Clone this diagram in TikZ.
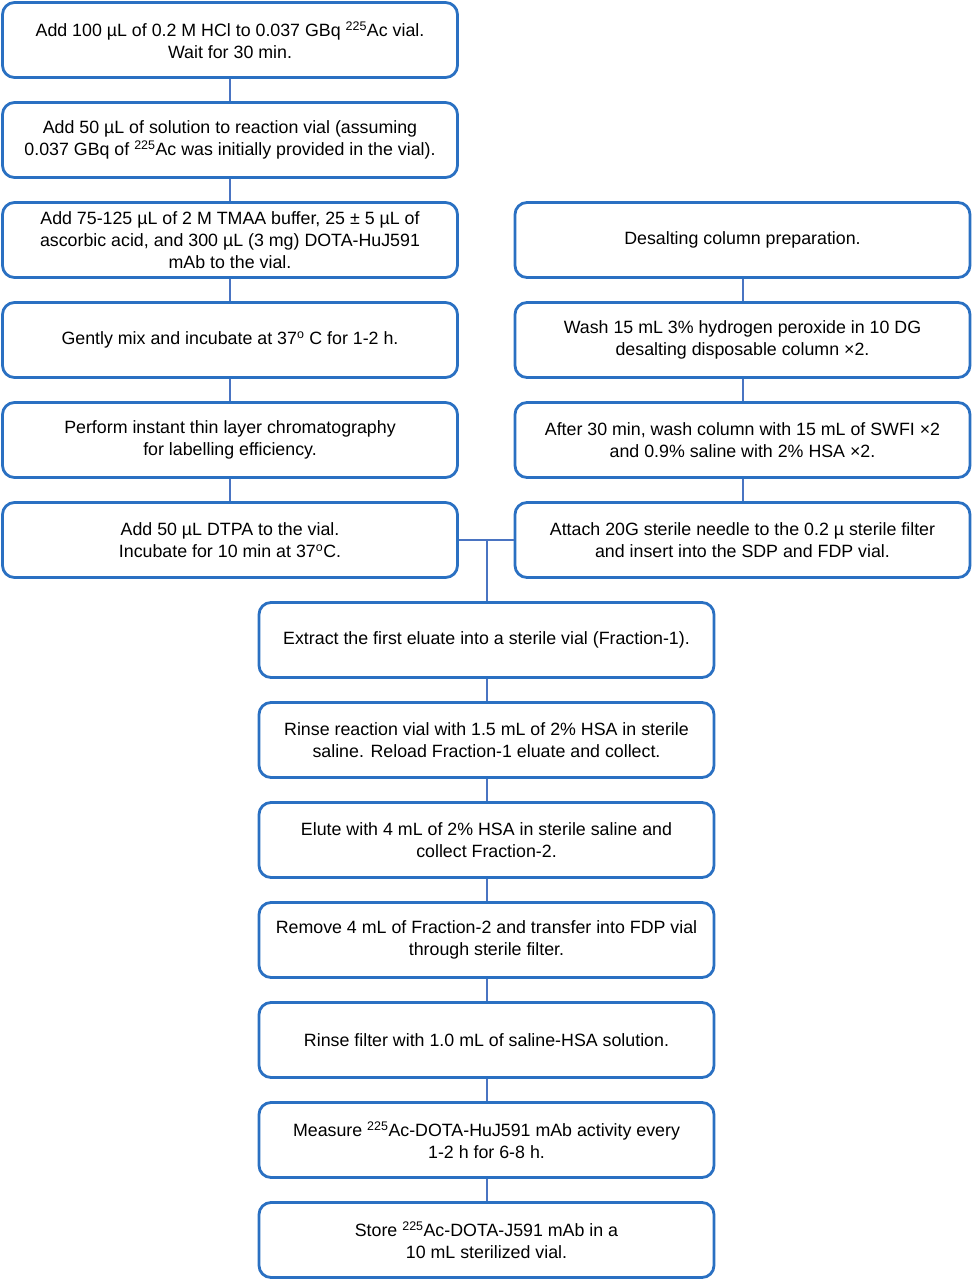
\documentclass[tikz,border=0pt]{standalone}
\usepackage{fontspec}
\setmainfont{Liberation Sans}
\definecolor{boxblue}{HTML}{2A70C2}
\definecolor{lineblue}{HTML}{4A74C2}
\begin{document}
\begin{tikzpicture}[x=1pt,y=-1pt,
  stepbox/.style={draw=boxblue,line width=2.8pt,rounded corners=12pt,fill=white,
    minimum width=455pt,minimum height=75pt,align=center,inner sep=0pt,
    font=\fontsize{17.8}{22}\selectfont},
  conn/.style={draw=lineblue,line width=2pt}]
\useasboundingbox (0,0) rectangle (973,1280);
\node[stepbox] (l1) at (230,40) {Add 100 µL of 0.2 M HCl to 0.037 GBq \textsuperscript{225}Ac vial.\\Wait for 30 min.};
\node[stepbox] (l2) at (230,140) {Add 50 µL of solution to reaction vial (assuming\\0.037 GBq of \textsuperscript{225}Ac was initially provided in the vial).};
\node[stepbox] (l3) at (230,240) {Add 75-125 µL of 2 M TMAA buffer, 25 ± 5 µL of\\ascorbic acid, and 300 µL (3 mg) DOTA-HuJ591\\mAb to the vial.};
\node[stepbox] (l4) at (230,340) {Gently mix and incubate at 37\textsuperscript{o} C for 1-2 h.};
\node[stepbox] (l5) at (230,440) {Perform instant thin layer chromatography\\for labelling efficiency.};
\node[stepbox] (l6) at (230,540) {Add 50 µL DTPA to the vial.\\Incubate for 10 min at 37\textsuperscript{o}C.};
\node[stepbox] (r1) at (742.5,240) {Desalting column preparation.};
\node[stepbox] (r2) at (742.5,340) {Wash 15 mL 3\% hydrogen peroxide in 10 DG\\desalting disposable column ×2.};
\node[stepbox] (r3) at (742.5,440) {After 30 min, wash column with 15 mL of SWFI ×2\\and 0.9\% saline with 2\% HSA ×2.};
\node[stepbox] (r4) at (742.5,540) {Attach 20G sterile needle to the 0.2 µ sterile filter\\and insert into the SDP and FDP vial.};
\node[stepbox] (b1) at (486.5,640) {Extract the first eluate into a sterile vial (Fraction-1).};
\node[stepbox] (b2) at (486.5,740) {Rinse reaction vial with 1.5 mL of 2\% HSA in sterile\\saline. Reload Fraction-1 eluate and collect.};
\node[stepbox] (b3) at (486.5,840) {Elute with 4 mL of 2\% HSA in sterile saline and\\collect Fraction-2.};
\node[stepbox] (b4) at (486.5,940) {Remove 4 mL of Fraction-2 and transfer into FDP vial\\through sterile filter.};
\node[stepbox] (b5) at (486.5,1040) {Rinse filter with 1.0 mL of saline-HSA solution.};
\node[stepbox] (b6) at (486.5,1140) {Measure \textsuperscript{225}Ac-DOTA-HuJ591 mAb activity every\\1-2 h for 6-8 h.};
\node[stepbox] (b7) at (486.5,1240) {Store \textsuperscript{225}Ac-DOTA-J591 mAb in a\\10 mL sterilized vial.};
\coordinate (j) at (486.5,540);
\draw[conn] (l1) -- (l2);
\draw[conn] (l2) -- (l3);
\draw[conn] (l3) -- (l4);
\draw[conn] (l4) -- (l5);
\draw[conn] (l5) -- (l6);
\draw[conn] (r1) -- (r2);
\draw[conn] (r2) -- (r3);
\draw[conn] (r3) -- (r4);
\draw[conn] (l6.east) -- (r4.west);
\draw[conn] (j) -- (b1.north);
\draw[conn] (b1) -- (b2);
\draw[conn] (b2) -- (b3);
\draw[conn] (b3) -- (b4);
\draw[conn] (b4) -- (b5);
\draw[conn] (b5) -- (b6);
\draw[conn] (b6) -- (b7);
\end{tikzpicture}
\end{document}
